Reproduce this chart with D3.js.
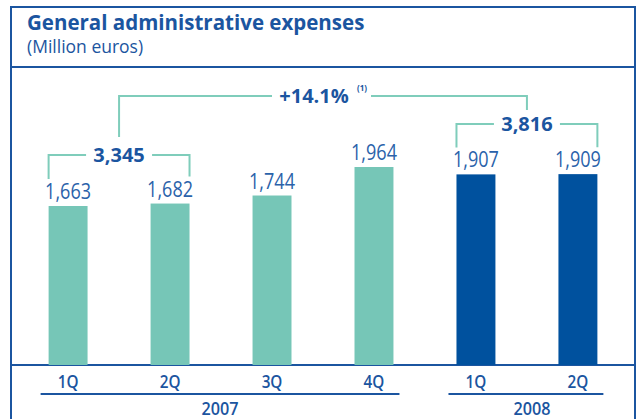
<!DOCTYPE html>
<html>
<head>
<meta charset="utf-8">
<script src="https://cdn.jsdelivr.net/npm/d3@7"></script>
<style>
  body { margin: 0; background: #fff; }
  svg { display: block; font-family: "Open Sans", "Noto Sans", sans-serif; }
</style>
</head>
<body>
<div id="chart"></div>
<script>
// Data
const quarters = ["1Q", "2Q", "3Q", "4Q", "1Q", "2Q"];
const years = ["2007", "2007", "2007", "2007", "2008", "2008"];
const values = [1663, 1682, 1744, 1964, 1907, 1909];
const groups = [
  { year: "2007", from: 0, to: 3 },
  { year: "2008", from: 4, to: 5 }
];
const halfTotals = [
  { label: "3,345", from: 0, to: 1 },
  { label: "3,816", from: 4, to: 5 }
];
const growthLabel = "+14.1%";
const growthNote = "(1)";

const width = 638, height = 419;
const blue = "#1b55a0";
const teal = "#76c6b7";
const darkBlue = "#00519e";
const lineTeal = "#7fcdbb";

const svg = d3.select("#chart").append("svg")
    .attr("width", width)
    .attr("height", height);

// Frame
const frame = svg.append("g").attr("stroke", blue).attr("stroke-width", 2).attr("fill", "none");
frame.append("path").attr("d", "M11,419 V7 H635 V419");
frame.append("line").attr("x1", 11).attr("x2", 635).attr("y1", 67).attr("y2", 67);
frame.append("line").attr("x1", 11).attr("x2", 635).attr("y1", 365).attr("y2", 365);

// Titles
svg.append("text")
    .attr("x", 27).attr("y", 30)
    .attr("fill", blue)
    .style("font-size", "20.5px").style("font-weight", "bold")
    .text("General administrative expenses");
svg.append("text")
    .attr("x", 27).attr("y", 53)
    .attr("fill", blue)
    .style("font-size", "17.5px")
    .text("(Million euros)");

// Scales
const x = d3.scaleBand()
    .domain(d3.range(values.length))
    .range([17, 629])
    .paddingInner(0.618)
    .paddingOuter(0.31);

const y = d3.scaleLinear()
    .domain([436, 1964])
    .range([365, 167]);

const mid = i => x(i) + x.bandwidth() / 2;

// Bars
svg.selectAll(".bar")
    .data(values)
  .enter().append("rect")
    .attr("class", "bar")
    .attr("x", (d, i) => x(i))
    .attr("y", d => y(d))
    .attr("width", x.bandwidth())
    .attr("height", d => 365 - y(d))
    .attr("fill", (d, i) => years[i] === "2008" ? darkBlue : teal);

// Value labels (narrow)
svg.selectAll(".val")
    .data(values)
  .enter().append("text")
    .attr("class", "val")
    .attr("transform", (d, i) => `translate(${mid(i)},${y(d) - 7}) scale(0.86,1)`)
    .attr("text-anchor", "middle")
    .attr("fill", "#2a62aa")
    .style("font-size", "21px")
    .style("font-weight", "normal")
    .text(d => d3.format(",")(d));

// Quarter labels
svg.selectAll(".q")
    .data(quarters)
  .enter().append("text")
    .attr("class", "q")
    .attr("transform", (d, i) => `translate(${mid(i)},388) scale(0.85,1)`)
    .attr("text-anchor", "middle")
    .attr("fill", blue)
    .style("font-size", "18px").style("font-weight", "600")
    .text(d => d);

// Year groups
groups.forEach(g => {
  const x0 = x(g.from) - 8, x1 = x(g.to) + x.bandwidth() + 6;
  svg.append("line")
      .attr("x1", x0).attr("x2", x1)
      .attr("y1", 394).attr("y2", 394)
      .attr("stroke", blue).attr("stroke-width", 2);
  svg.append("text")
      .attr("transform", `translate(${(x0 + x1) / 2 + (g.year === "2007" ? 0 : 6)},415) scale(0.9,1)`)
      .attr("text-anchor", "middle")
      .attr("fill", blue)
      .style("font-size", "18px").style("font-weight", "600")
      .text(g.year);
});

// Half-year brackets
const bracketY = [155, 124];
const centers = [];
halfTotals.forEach((h, k) => {
  const left = x(h.from), right = x(h.to) + x.bandwidth();
  const cx = (left + right) / 2;
  const by = bracketY[k];
  centers.push({ cx: cx, by: by });
  const tw = 66;
  const g = svg.append("g").attr("stroke", lineTeal).attr("stroke-width", 2).attr("fill", "none");
  g.append("path").attr("d", `M${left},${y(values[h.from]) - 27} V${by} H${cx - tw / 2}`);
  g.append("path").attr("d", `M${cx + tw / 2},${by} H${right} V${y(values[h.to]) - 27}`);
  svg.append("text")
      .attr("x", cx).attr("y", by + 7)
      .attr("text-anchor", "middle")
      .attr("fill", blue)
      .style("font-size", "20px").style("font-weight", "bold")
      .text(h.label);
});

// Growth bracket
const topY = 96;
const gx = 314;
svg.append("path")
    .attr("d", `M${centers[0].cx},${centers[0].by - 18} V${topY} H${gx - 42}`)
    .attr("stroke", lineTeal).attr("stroke-width", 2).attr("fill", "none");
svg.append("path")
    .attr("d", `M${gx + 57},${topY} H${centers[1].cx} V${centers[1].by - 14}`)
    .attr("stroke", lineTeal).attr("stroke-width", 2).attr("fill", "none");
svg.append("text")
    .attr("x", gx).attr("y", topY + 7)
    .attr("text-anchor", "middle")
    .attr("fill", blue)
    .style("font-size", "20px").style("font-weight", "bold")
    .text(growthLabel);
svg.append("text")
    .attr("x", gx + 43).attr("y", topY - 5)
    .attr("fill", blue)
    .style("font-size", "8px").style("font-weight", "bold")
    .text(growthNote);
</script>
</body>
</html>
